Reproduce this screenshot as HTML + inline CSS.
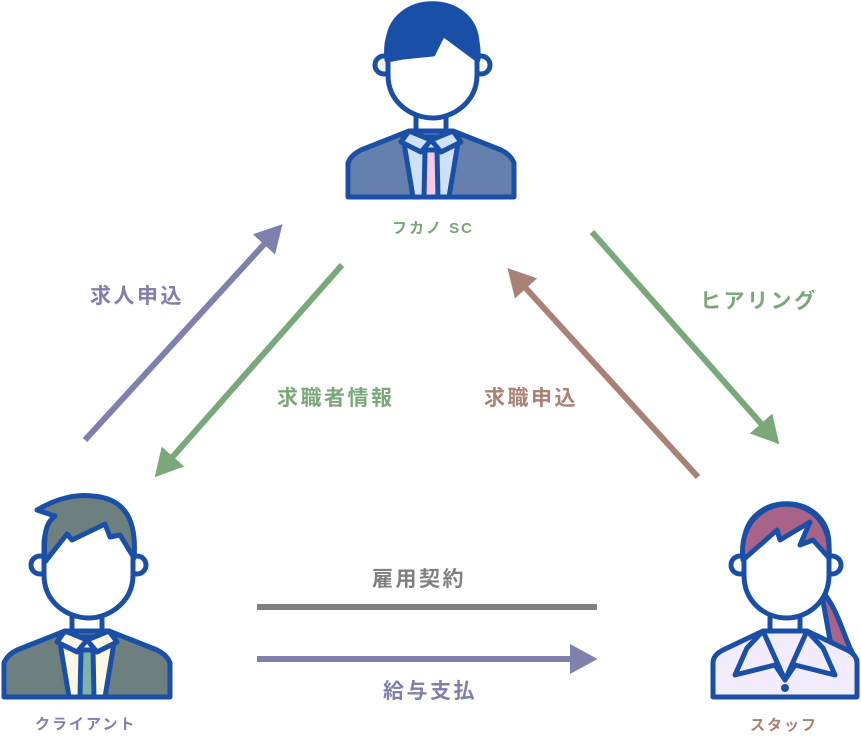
<!DOCTYPE html>
<html><head><meta charset="utf-8"><style>
html,body{margin:0;padding:0;background:#fff;}
svg{display:block;}
text{font-family:"Liberation Sans","Noto Sans CJK JP",sans-serif;font-weight:bold;}
</style></head><body>
<svg width="861" height="749" viewBox="0 0 861 749" xmlns="http://www.w3.org/2000/svg">
<defs>
<marker id="mp" markerWidth="5" markerHeight="5" refX="1" refY="2.5" orient="auto" markerUnits="strokeWidth"><path d="M0,0 L4.6,2.5 L0,5 Z" fill="#7f80ad"/></marker>
<marker id="mg" markerWidth="5" markerHeight="5" refX="1" refY="2.5" orient="auto" markerUnits="strokeWidth"><path d="M0,0 L4.6,2.5 L0,5 Z" fill="#7aa87a"/></marker>
<marker id="mb" markerWidth="5" markerHeight="5" refX="1" refY="2.5" orient="auto" markerUnits="strokeWidth"><path d="M0,0 L4.6,2.5 L0,5 Z" fill="#a98276"/></marker>
</defs>
<g stroke-width="6" fill="none">
<line x1="85" y1="440" x2="268" y2="240" stroke="#7f80ad" marker-end="url(#mp)"/>
<line x1="342" y1="265" x2="169" y2="461" stroke="#7aa87a" marker-end="url(#mg)"/>
<line x1="592" y1="232" x2="765" y2="428" stroke="#7aa87a" marker-end="url(#mg)"/>
<line x1="698" y1="477" x2="522" y2="284" stroke="#a98276" marker-end="url(#mb)"/>
<line x1="257" y1="607" x2="597" y2="607" stroke="#808080"/>
<line x1="257" y1="659" x2="576" y2="659" stroke="#7f80ad" marker-end="url(#mp)"/>
</g>
<g font-size="21" letter-spacing="2.5">
<text x="90" y="303" fill="#7f80ad">求人申込</text>
<text x="277" y="405" fill="#7aa87a">求職者情報</text>
<text x="484" y="405" fill="#a98276">求職申込</text>
<text x="700" y="308" fill="#7aa87a">ヒアリング</text>
<text x="372" y="586" fill="#808080">雇用契約</text>
<text x="383" y="698" fill="#7f80ad">給与支払</text>
</g>
<g font-size="15" letter-spacing="2">
<text x="392" y="233" fill="#7aa87a">フカノ SC</text>
<text x="35" y="729" fill="#7f80ad">クライアント</text>
<text x="750" y="730" fill="#a98276">スタッフ</text>
</g>

<!-- Top person -->
<g transform="translate(431,0)" stroke="#1a4fa8" stroke-width="5" stroke-linejoin="round" stroke-linecap="round">
<path d="M-83 197 L-83 163 Q-80 155 -70 150 L-22 131 L22 131 L70 150 Q80 155 83 163 L83 197 Z" fill="#6680ad"/>
<path d="M-28 137 L-18 197 L18 197 L28 137 Z" fill="#cfe0fb"/>
<path d="M-6 150 L6 150 L7 197 L-7 197 Z" fill="#f7c8e8"/>
<path d="M-22 131 L-30 142 L-10 152 L0 140 Z M22 131 L30 142 L10 152 L0 140 Z" fill="#cfe0fb"/>
<circle cx="-47" cy="65" r="9" fill="#fff"/><circle cx="50" cy="65" r="9" fill="#fff"/>
<path d="M-15 115 L-15 131 M15 115 L15 131"/>
<path d="M-43 45 C-43 -10 46 -10 46 45 L46 75 C46 102 22 118 2 118 C-20 118 -43 102 -43 75 Z" fill="#fff"/>
<path d="M-44 60 C-52 -12 52 -16 47 60 L12 34 L2 54 L-28 57 Z" fill="#1a4fa8"/>
</g>

<!-- Client -->
<g transform="translate(87,500)" stroke="#1a4fa8" stroke-width="5" stroke-linejoin="round" stroke-linecap="round">
<path d="M-83 197 L-83 163 Q-80 155 -70 150 L-22 131 L22 131 L70 150 Q80 155 83 163 L83 197 Z" fill="#6e7f7f"/>
<path d="M-28 137 L-18 197 L18 197 L28 137 Z" fill="#fff8e6"/>
<path d="M-6 150 L6 150 L7 197 L-7 197 Z" fill="#7fb3a5"/>
<path d="M-22 131 L-30 142 L-10 152 L0 140 Z M22 131 L30 142 L10 152 L0 140 Z" fill="#fff8e6"/>
<circle cx="-47" cy="65" r="9" fill="#fff"/><circle cx="50" cy="65" r="9" fill="#fff"/>
<path d="M-15 115 L-15 131 M15 115 L15 131"/>
<path d="M-43 45 C-43 -10 46 -10 46 45 L46 75 C46 102 22 118 2 118 C-20 118 -43 102 -43 75 Z" fill="#fff"/>
<path d="M-42 62 C-44 30 -40 22 -32 16 L-50 10 C-30 -2 -10 -6 5 -4 C38 -2 50 20 47 58 L33 35 L23 37 L18 24 L-15 40 L-20 34 Z" fill="#6e7f7f"/>
</g>

<!-- Staff -->
<g transform="translate(785,500)" stroke="#1a4fa8" stroke-width="5" stroke-linejoin="round" stroke-linecap="round">
<path d="M36 90 C55 110 60 145 72 160 C60 158 50 150 45 140 Z" fill="#a86488"/>
<path d="M-72 197 L-72 163 Q-72 155 -62 150 L-22 131 L22 131 L62 150 Q72 155 72 163 L72 197 Z" fill="#f3ecfd"/>
<path d="M-22 131 L-38 148 L-50 175 L-10 165 L0 180 Z M22 131 L38 148 L50 175 L10 165 L0 180 Z" fill="#f3ecfd"/>
<circle cx="0" cy="188" r="4" fill="#1a4fa8" stroke="none"/>
<circle cx="-45" cy="65" r="9" fill="#fff"/><circle cx="47" cy="65" r="9" fill="#fff"/>
<path d="M-15 115 L-15 131 M15 115 L15 131"/>
<path d="M-41 45 C-41 -10 44 -10 44 45 L44 75 C44 102 22 118 2 118 C-20 118 -41 102 -41 75 Z" fill="#fff"/>
<path d="M-42 60 C-50 -12 50 -16 44 58 L28 40 L15 45 L25 22 L-5 40 L-8 30 Z" fill="#a86488"/>
</g>
</svg>
</body></html>
